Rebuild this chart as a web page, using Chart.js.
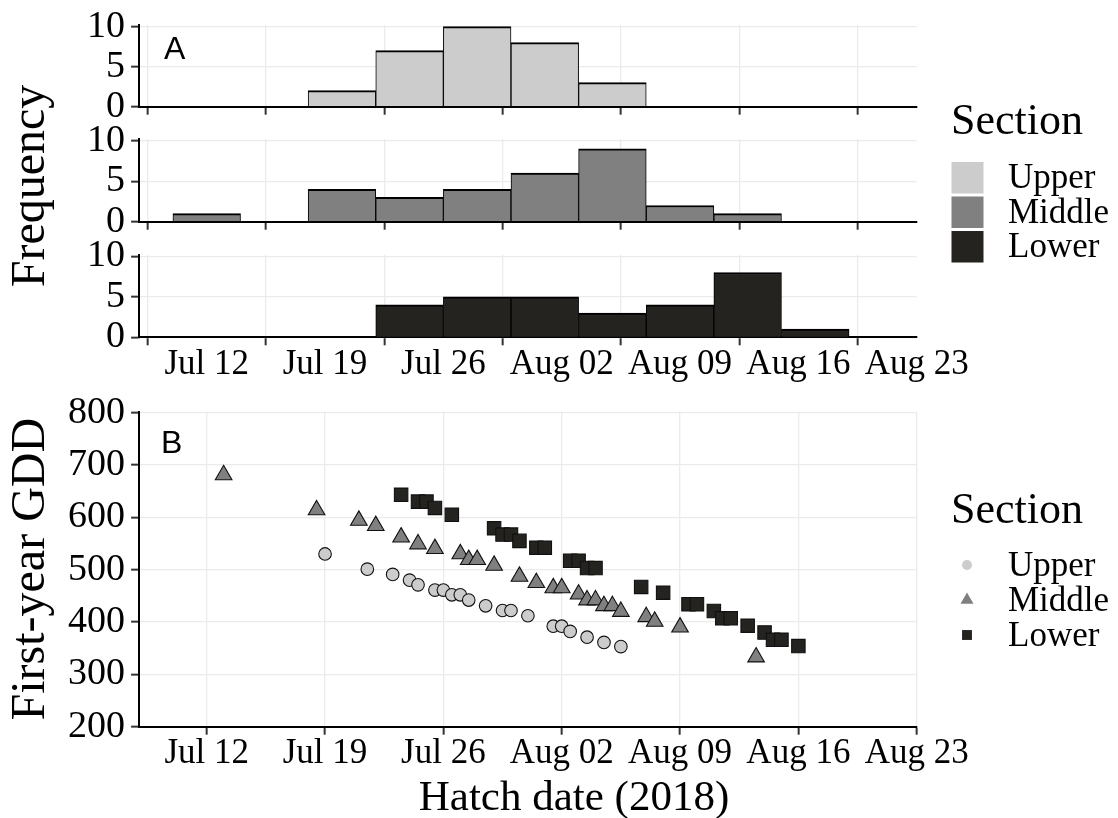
<!DOCTYPE html>
<html><head><meta charset="utf-8">
<script src="https://cdn.jsdelivr.net/npm/chart.js@4.4.1/dist/chart.umd.min.js"></script>
<style>
html,body{margin:0;padding:0;background:#fff;}
#wrap{position:relative;width:1118px;height:818px;overflow:hidden;background:#fff;}
canvas{position:absolute;left:0;top:0;}
</style></head><body>
<div id="wrap">
<canvas id="h1" width="1118" height="818"></canvas>
<canvas id="h2" width="1118" height="818"></canvas>
<canvas id="h3" width="1118" height="818"></canvas>
<canvas id="sc" width="1118" height="818"></canvas>
</div>
<script>
// ---------- data (x values are days counted from Jun 30: Jul d = d, Aug d = 31 + d) ----------
const tickDays   = [12, 19, 26, 33, 40, 47, 54];
const tickLabels = ['Jul 12', 'Jul 19', 'Jul 26', 'Aug 02', 'Aug 09', 'Aug 16', 'Aug 23'];
const freqTicks  = [0, 5, 10];
const gddTicks   = [200, 300, 400, 500, 600, 700, 800];
const sections   = ['Upper', 'Middle', 'Lower'];

// histogram bins (4-day bins, centre day)
const binCenters   = [12, 16, 20, 24, 28, 32, 36, 40, 44, 48];
const upperCounts  = [0, 0, 2, 7, 10, 8, 3, 0, 0, 0];
const middleCounts = [1, 0, 4, 3, 4, 6, 9, 2, 1, 0];
const lowerCounts  = [0, 0, 0, 4, 5, 5, 3, 4, 8, 1];

// scatter: hatch day and first-year GDD
const upperDay  = [19.0, 21.5, 23.0, 24.0, 24.5, 25.5, 26.0, 26.5, 27.0, 27.5, 28.5, 29.5, 30.0, 31.0, 32.5, 33.0, 33.5, 34.5, 35.5, 36.5];
const upperGDD  = [530, 501, 491, 480, 471, 461, 461, 452, 452, 442, 431, 422, 422, 412, 392, 392, 382, 371, 361, 353];
const middleDay = [13.0, 18.5, 21.0, 22.0, 23.5, 24.5, 25.5, 27.0, 27.5, 28.0, 29.0, 30.5, 31.5, 32.5, 33.0, 34.0, 34.5, 35.0, 35.5, 36.0, 36.5, 38.0, 38.5, 40.0, 44.5];
const middleGDD = [681, 614, 594, 584, 562, 549, 540, 530, 519, 519, 508, 487, 475, 465, 465, 453, 442, 442, 431, 431, 420, 410, 401, 390, 333];
const lowerDay  = [23.5, 24.5, 25.0, 25.5, 26.5, 29.0, 29.5, 30.0, 30.5, 31.5, 32.0, 33.5, 34.0, 34.5, 35.0, 37.7, 39.0, 40.5, 41.0, 42.0, 42.5, 43.0, 44.0, 45.0, 45.5, 46.0, 47.0];
const lowerGDD  = [643, 630, 630, 618, 605, 579, 567, 567, 555, 542, 542, 517, 517, 503, 503, 467, 456, 434, 434, 421, 407, 407, 393, 380, 366, 366, 354];

// ---------- styles ----------
const SERIF = '"Liberation Serif", "Times New Roman", serif';
const SANS  = '"Liberation Sans", Arial, sans-serif';
const colors = { Upper: '#CCCCCC', Middle: '#808080', Lower: '#252320' };
const pointStyles = { Upper: 'circle', Middle: 'triangle', Lower: 'rect' };
const pointRadii  = { Upper: 6.3, Middle: 9.6, Lower: 9.5 };
const X_MIN = 8, X_MAX = 54;
const PLOT_LEFT = 139.1, PLOT_RIGHT = 916.7, W = 1118, H = 818, XAXIS_H = 50;

function xScale(showLabels) {
  return {
    type: 'linear', min: X_MIN, max: X_MAX, offset: false,
    afterBuildTicks: s => { s.ticks = tickDays.map(v => ({ value: v })); },
    afterFit: s => { s.height = XAXIS_H; },
    grid: { color: '#EBEBEB', lineWidth: 1.3, drawTicks: true, tickLength: 8, tickColor: '#333333', tickWidth: 2 },
    border: { display: true, color: '#000', width: 2 },
    ticks: {
      display: showLabels, color: '#000', autoSkip: false, maxRotation: 0, minRotation: 0, padding: 2,
      font: { family: SERIF, size: 35, lineHeight: 1 },
      callback: v => tickLabels[tickDays.indexOf(v)]
    }
  };
}
function yScale(min, max, ticks, title) {
  return {
    type: 'linear', min, max,
    afterBuildTicks: s => { s.ticks = ticks.map(v => ({ value: v })); },
    afterFit: s => { s.width = PLOT_LEFT; },
    grid: { color: '#EBEBEB', lineWidth: 1.3, drawTicks: true, tickLength: 8, tickColor: '#333333', tickWidth: 2 },
    border: { display: true, color: '#000', width: 2 },
    ticks: { color: '#000', padding: 6, autoSkip: false, font: { family: SERIF, size: 38, lineHeight: 1 }, callback: v => String(v) },
    title: title ? { display: true, text: title, color: '#000', font: { family: SERIF, size: 48, lineHeight: 1 }, padding: { top: 7, bottom: 0 } } : { display: false }
  };
}
function pad(top, bottom) {
  return { top, bottom: H - bottom - XAXIS_H, left: 0, right: W - PLOT_RIGHT };
}
function extras(fn) {
  return { id: 'extras', afterDraw(chart) { const ctx = chart.ctx; ctx.save(); fn(ctx, chart); ctx.restore(); } };
}
const baseOpts = { responsive: false, animation: false, devicePixelRatio: 1,
  plugins: { legend: { display: false }, tooltip: { enabled: false } } };

function histChart(id, section, counts, top, bottom, showLabels, drawFn) {
  const data = binCenters.map((x, i) => ({ x, y: counts[i] })).filter(p => p.y > 0);
  return new Chart(document.getElementById(id), {
    type: 'bar',
    data: { datasets: [{ label: section, data,
      backgroundColor: colors[section], borderColor: '#000',
      borderWidth: { top: 2, left: 1, right: 1, bottom: 0 }, borderSkipped: false,
      barPercentage: 1, categoryPercentage: 1 }] },
    options: Object.assign({}, baseOpts, {
      layout: { padding: pad(top, bottom) },
      scales: { x: xScale(showLabels), y: yScale(0, 10.2, freqTicks, null) }
    }),
    plugins: drawFn ? [extras(drawFn)] : []
  });
}

// Panel A: three stacked histograms
histChart('h1', 'Upper', upperCounts, 24.1, 106.7, false, ctx => {
  ctx.font = `32px ${SANS}`; ctx.fillStyle = '#000'; ctx.textBaseline = 'alphabetic'; ctx.textAlign = 'left';
  ctx.fillText('A', 164, 59);
});
histChart('h2', 'Middle', middleCounts, 139.1, 221.7, false, ctx => {
  // y-axis title spanning the three histograms
  ctx.save();
  ctx.translate(31, 186); ctx.rotate(-Math.PI / 2);
  ctx.font = `48px ${SERIF}`; ctx.fillStyle = '#000'; ctx.textAlign = 'center'; ctx.textBaseline = 'middle';
  ctx.fillText('Frequency', 0, 0);
  ctx.restore();
  // legend
  ctx.fillStyle = '#000'; ctx.textAlign = 'left'; ctx.textBaseline = 'alphabetic';
  ctx.font = `44px ${SERIF}`;
  ctx.fillText('Section', 951, 134);
  sections.forEach((s, i) => {
    const y0 = 162 + i * 34.5;
    ctx.fillStyle = colors[s];
    ctx.fillRect(951.5, y0, 32, 31.5);
    ctx.fillStyle = '#000';
    ctx.font = `35px ${SERIF}`; ctx.textBaseline = 'middle';
    ctx.fillText(s, 1008, y0 + 17);
  });
});
histChart('h3', 'Lower', lowerCounts, 254.7, 337.3, true, null);

// Panel B: scatter
const scatterSets = [
  { s: 'Upper', d: upperDay, g: upperGDD },
  { s: 'Middle', d: middleDay, g: middleGDD },
  { s: 'Lower', d: lowerDay, g: lowerGDD }
].map(o => ({
  label: o.s,
  data: o.d.map((x, i) => ({ x, y: o.g[i] })),
  pointStyle: pointStyles[o.s], pointRadius: pointRadii[o.s], pointHoverRadius: pointRadii[o.s],
  pointBackgroundColor: colors[o.s], pointBorderColor: '#111', pointBorderWidth: 1.1,
  showLine: false
}));

new Chart(document.getElementById('sc'), {
  type: 'scatter',
  data: { datasets: scatterSets },
  options: Object.assign({}, baseOpts, {
    layout: { padding: pad(411.6, 726.7) },
    scales: { x: xScale(true), y: yScale(200, 802, gddTicks, 'First-year GDD') }
  }),
  plugins: [extras((ctx, chart) => {
    ctx.fillStyle = '#000'; ctx.textAlign = 'left'; ctx.textBaseline = 'alphabetic';
    ctx.font = `32px ${SANS}`;
    ctx.fillText('B', 161, 452.5);
    ctx.font = `43px ${SERIF}`; ctx.textAlign = 'center';
    ctx.fillText('Hatch date (2018)', 574, 810);
    // legend
    ctx.textAlign = 'left';
    ctx.font = `44px ${SERIF}`;
    ctx.fillText('Section', 951, 523);
    const legR = { Upper: 5, Middle: 7.5, Lower: 7 };
    sections.forEach((s, i) => {
      const y0 = 565 + i * 35;
      ctx.fillStyle = colors[s];
      Chart.helpers.drawPoint(ctx, { pointStyle: pointStyles[s], radius: legR[s], rotation: 0, borderWidth: 0 }, 967, y0);
      ctx.fillStyle = '#000';
      ctx.font = `35px ${SERIF}`; ctx.textBaseline = 'middle';
      ctx.fillText(s, 1008, y0 + 2);
      ctx.textBaseline = 'alphabetic';
    });
  })]
});
</script>
</body></html>
